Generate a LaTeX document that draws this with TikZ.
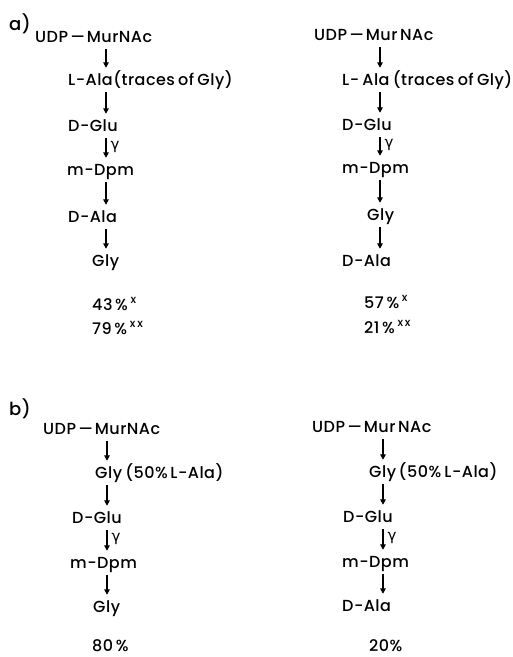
\documentclass[tikz,border=0pt]{standalone}
\usepackage{fontspec}
\setmainfont{Poppins}[UprightFont=* Medium, LetterSpace=3, WordSpace=0.7]
\newfontfamily\grk{DejaVu Sans}
\usetikzlibrary{arrows.meta}
\newcommand{\lng}{\kern2pt\scalebox{1.35}[1]{–}\kern1.5pt}
\tikzset{
  txt/.style={anchor=base west, inner xsep=0pt, inner ysep=2pt, text height=12pt, text depth=4pt, font=\fontsize{16}{18}\selectfont},
  pct/.style={anchor=base west, inner sep=0pt, font=\fontsize{16}{18}\selectfont},
  lbl/.style={anchor=base west, inner sep=0pt, font=\fontsize{18}{20}\selectfont},
  arr/.style={-{Triangle[length=5.5pt,width=5.5pt]}, line width=1.4pt, shorten <=1pt, shorten >=3pt},
  gam/.style={anchor=west, inner xsep=4pt, inner ysep=0pt, font=\grk\fontsize{15}{17}\selectfont},
}
\begin{document}
\begin{tikzpicture}[x=1pt,y=-1pt]
\useasboundingbox (0,0) rectangle (513,657);
% ---------- a) left ----------
\node[lbl] (la) at (9,30) {a)};
\coordinate (xa1) at (106,0);
\node[txt] (a1) at (35,42) {UDP\lng MurNAc};
\node[txt] (a2) at (68,85) {L-Ala(traces of Gly)};
\node[txt] (a3) at (68,131) {D-Glu};
\node[txt] (a4) at (67,175) {m-Dpm};
\node[txt] (a5) at (68,222) {D-Ala};
\node[txt] (a6) at (92,266) {Gly};
\node[pct] (a7) at (92,310) {43\,\%\,\textsuperscript{x}};
\node[pct] (a8) at (92,334) {79\,\%\,\textsuperscript{x\,x}};
\draw[arr] (a1.south -| xa1) -- (a2.north -| xa1);
\draw[arr] (a2.south -| xa1) -- (a3.north -| xa1);
\draw[arr] (a3.south -| xa1) -- node[gam,pos=0.4] {γ} (a4.north -| xa1);
\draw[arr] (a4.south -| xa1) -- (a5.north -| xa1);
\draw[arr] (a5.south -| xa1) -- (a6.north -| xa1);
% ---------- a) right ----------
\coordinate (xb1) at (380,0);
\node[txt] (b1) at (314,40) {UDP\lng Mur\,NAc};
\node[txt] (b2) at (342,85) {L- Ala (traces of Gly)};
\node[txt] (b3) at (342,130) {D-Glu};
\node[txt] (b4) at (342,173) {m-Dpm};
\node[txt] (b5) at (367,220) {Gly};
\node[txt] (b6) at (342,266) {D-Ala};
\node[pct] (b7) at (364,308) {57\,\%\,\textsuperscript{x}};
\node[pct] (b8) at (364,333) {21\,\%\,\textsuperscript{x\,x}};
\draw[arr] (b1.south -| xb1) -- (b2.north -| xb1);
\draw[arr] (b2.south -| xb1) -- (b3.north -| xb1);
\draw[arr] (b3.south -| xb1) -- node[gam,pos=0.4] {γ} (b4.north -| xb1);
\draw[arr] (b4.south -| xb1) -- (b5.north -| xb1);
\draw[arr] (b5.south -| xb1) -- (b6.north -| xb1);
% ---------- b) left ----------
\node[lbl] (lb) at (9,415) {b)};
\coordinate (xc1) at (107,0);
\node[txt] (c1) at (43,434) {UDP\lng MurNAc};
\node[txt] (c2) at (95,478) {Gly (50\%\,L-Ala)};
\node[txt] (c3) at (72,523) {D-Glu};
\node[txt] (c4) at (70,568) {m-Dpm};
\node[txt] (c5) at (93,612) {Gly};
\node[pct] (c6) at (92,651) {80\,\%};
\draw[arr] (c1.south -| xc1) -- (c2.north -| xc1);
\draw[arr] (c2.south -| xc1) -- (c3.north -| xc1);
\draw[arr] (c3.south -| xc1) -- node[gam,pos=0.4] {γ} (c4.north -| xc1);
\draw[arr] (c4.south -| xc1) -- (c5.north -| xc1);
% ---------- b) right ----------
\coordinate (xd1) at (383,0);
\node[txt] (d1) at (312,432) {UDP\lng Mur\,NAc};
\node[txt] (d2) at (369,477) {Gly\,(50\% L-Ala)};
\node[txt] (d3) at (343,522) {D-Glu};
\node[txt] (d4) at (342,567) {m-Dpm};
\node[txt] (d5) at (342,611) {D-Ala};
\node[pct] (d6) at (369,651) {20\%};
\draw[arr] (d1.south -| xd1) -- (d2.north -| xd1);
\draw[arr] (d2.south -| xd1) -- (d3.north -| xd1);
\draw[arr] (d3.south -| xd1) -- node[gam,pos=0.4] {γ} (d4.north -| xd1);
\draw[arr] (d4.south -| xd1) -- (d5.north -| xd1);
\end{tikzpicture}
\end{document}
